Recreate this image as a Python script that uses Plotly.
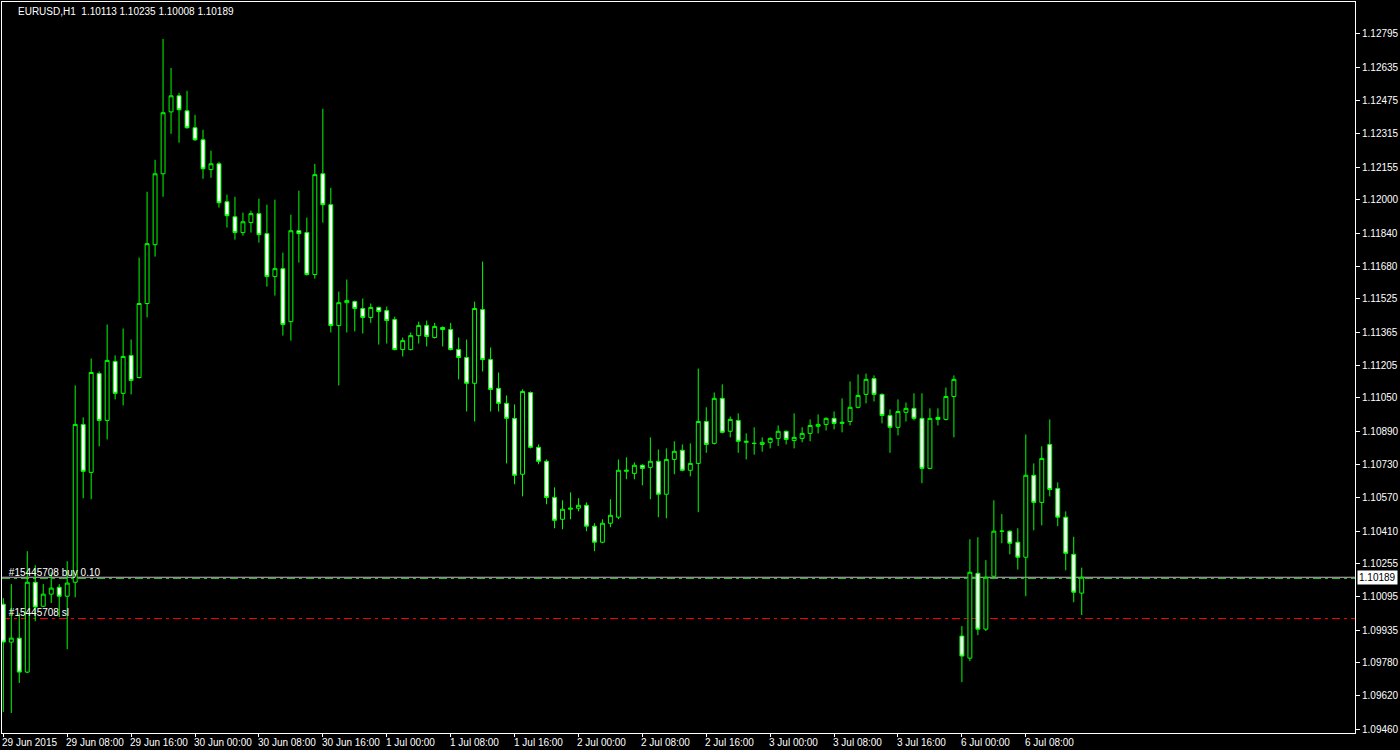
import plotly.graph_objects as go

# ---------------- data (EURUSD H1) ----------------
opens = [
    1.10060, 1.09878, 1.09897, 1.09734, 1.10165, 1.10050, 1.10108, 1.10141, 1.10098, 1.10165,
    1.10922, 1.10692, 1.11166, 1.10941, 1.11224, 1.11071, 1.11253, 1.11147, 1.11502, 1.11784,
    1.12124, 1.12421, 1.12498, 1.12426, 1.12345, 1.12287, 1.12144, 1.12172, 1.11990, 1.11918,
    1.11842, 1.11890, 1.11933, 1.11837, 1.11631, 1.11669, 1.11415, 1.11851, 1.11842, 1.11641,
    1.12124, 1.11976, 1.11396, 1.11506, 1.11511, 1.11478, 1.11435, 1.11483, 1.11468, 1.11425,
    1.11281, 1.11281, 1.11348, 1.11396, 1.11339, 1.11387, 1.11377, 1.11281, 1.11243, 1.11119,
    1.11473, 1.11233, 1.11095, 1.11023, 1.10951, 1.10683, 1.11075, 1.10812, 1.10745, 1.10572,
    1.10467, 1.10515, 1.10520, 1.10534, 1.10434, 1.10357, 1.10448, 1.10477, 1.10697, 1.10687,
    1.10726, 1.10716, 1.10745, 1.10587, 1.10754, 1.10798, 1.10702, 1.10735, 1.10936, 1.10831,
    1.11047, 1.10889, 1.10941, 1.10836, 1.10831, 1.10826, 1.10836, 1.10855, 1.10889, 1.10845,
    1.10855, 1.10879, 1.10913, 1.10922, 1.10951, 1.10927, 1.10936, 1.11004, 1.11066, 1.11142,
    1.11066, 1.10965, 1.10908, 1.10980, 1.10999, 1.10951, 1.10711, 1.10956, 1.10946, 1.11056,
    1.09907, 1.09801, 1.10208, 1.09940, 1.10194, 1.10410, 1.10410, 1.10357, 1.10285, 1.10678,
    1.10548, 1.10826, 1.10615, 1.10477, 1.10299, 1.10113,
]
highs = [
    1.10089, 1.10156, 1.10017, 1.10314, 1.10247, 1.10156, 1.10213, 1.10156, 1.10266, 1.11109,
    1.10956, 1.11238, 1.11176, 1.11401, 1.11253, 1.11382, 1.11329, 1.11722, 1.12038, 1.12191,
    1.12771, 1.12632, 1.12512, 1.12522, 1.12407, 1.12335, 1.12235, 1.12182, 1.12024, 1.12014,
    1.11938, 1.11947, 1.12005, 1.11976, 1.12000, 1.11746, 1.11928, 1.12043, 1.11914, 1.12172,
    1.12436, 1.12057, 1.11559, 1.11617, 1.11516, 1.11526, 1.11502, 1.11487, 1.11487, 1.11439,
    1.11339, 1.11363, 1.11415, 1.11420, 1.11409, 1.11392, 1.11409, 1.11339, 1.11329, 1.11511,
    1.11703, 1.11291, 1.11171, 1.11061, 1.11018, 1.11090, 1.11080, 1.10826, 1.10754, 1.10620,
    1.10558, 1.10596, 1.10568, 1.10548, 1.10448, 1.10467, 1.10563, 1.10754, 1.10764, 1.10740,
    1.10731, 1.10860, 1.10802, 1.10807, 1.10841, 1.10826, 1.10831, 1.11190, 1.11004, 1.11075,
    1.11114, 1.10960, 1.10975, 1.10879, 1.10908, 1.10860, 1.10860, 1.10917, 1.10893, 1.10975,
    1.10908, 1.10946, 1.10970, 1.10956, 1.10984, 1.11047, 1.11128, 1.11162, 1.11166, 1.11157,
    1.11071, 1.10994, 1.11042, 1.11027, 1.11071, 1.11071, 1.10999, 1.10999, 1.11099, 1.11157,
    1.09955, 1.10371, 1.10381, 1.10271, 1.10558, 1.10492, 1.10414, 1.10424, 1.10874, 1.10735,
    1.10817, 1.10946, 1.10644, 1.10505, 1.10383, 1.10235,
]
lows = [
    1.09543, 1.09538, 1.09682, 1.09729, 1.09978, 1.10046, 1.10065, 1.09998, 1.09844, 1.10093,
    1.10568, 1.10563, 1.10817, 1.10850, 1.11042, 1.11013, 1.11066, 1.11142, 1.11435, 1.11727,
    1.12014, 1.12316, 1.12273, 1.12340, 1.12282, 1.12100, 1.12105, 1.11962, 1.11866, 1.11808,
    1.11827, 1.11842, 1.11794, 1.11583, 1.11540, 1.11348, 1.11324, 1.11698, 1.11636, 1.11621,
    1.11890, 1.11363, 1.11109, 1.11363, 1.11368, 1.11358, 1.11409, 1.11305, 1.11310, 1.11277,
    1.11248, 1.11277, 1.11310, 1.11296, 1.11334, 1.11296, 1.11277, 1.11138, 1.10984, 1.10936,
    1.11176, 1.10984, 1.10984, 1.10735, 1.10635, 1.10577, 1.10807, 1.10731, 1.10539, 1.10424,
    1.10419, 1.10467, 1.10505, 1.10410, 1.10314, 1.10352, 1.10429, 1.10467, 1.10659, 1.10659,
    1.10630, 1.10563, 1.10477, 1.10472, 1.10683, 1.10697, 1.10673, 1.10501, 1.10786, 1.10826,
    1.10879, 1.10860, 1.10786, 1.10754, 1.10777, 1.10791, 1.10807, 1.10818, 1.10826, 1.10807,
    1.10836, 1.10841, 1.10879, 1.10893, 1.10898, 1.10884, 1.10917, 1.10999, 1.11023, 1.11032,
    1.10927, 1.10786, 1.10869, 1.10936, 1.10941, 1.10640, 1.10707, 1.10917, 1.10941, 1.10860,
    1.09686, 1.09787, 1.09911, 1.09931, 1.10189, 1.10352, 1.10299, 1.10226, 1.10098, 1.10414,
    1.10438, 1.10577, 1.10434, 1.10222, 1.10069, 1.10008,
]
closes = [
    1.09878, 1.09897, 1.09734, 1.10165, 1.10046, 1.10108, 1.10137, 1.10098, 1.10161, 1.10922,
    1.10697, 1.11171, 1.10941, 1.11229, 1.11071, 1.11248, 1.11133, 1.11502, 1.11789, 1.12124,
    1.12417, 1.12498, 1.12431, 1.12345, 1.12287, 1.12148, 1.12172, 1.11985, 1.11923, 1.11842,
    1.11894, 1.11933, 1.11832, 1.11631, 1.11669, 1.11401, 1.11851, 1.11837, 1.11641, 1.12120,
    1.11976, 1.11396, 1.11506, 1.11516, 1.11478, 1.11435, 1.11483, 1.11463, 1.11420, 1.11281,
    1.11324, 1.11348, 1.11396, 1.11344, 1.11392, 1.11377, 1.11281, 1.11243, 1.11119, 1.11478,
    1.11233, 1.11090, 1.11023, 1.10951, 1.10678, 1.11080, 1.10812, 1.10745, 1.10572, 1.10462,
    1.10515, 1.10520, 1.10534, 1.10434, 1.10357, 1.10448, 1.10486, 1.10702, 1.10702, 1.10726,
    1.10711, 1.10745, 1.10587, 1.10754, 1.10793, 1.10702, 1.10735, 1.10936, 1.10826, 1.11047,
    1.10884, 1.10946, 1.10841, 1.10841, 1.10831, 1.10836, 1.10855, 1.10889, 1.10850, 1.10860,
    1.10879, 1.10917, 1.10922, 1.10951, 1.10927, 1.10932, 1.11004, 1.11061, 1.11138, 1.11066,
    1.10965, 1.10908, 1.10984, 1.10999, 1.10951, 1.10711, 1.10951, 1.10946, 1.11056, 1.11138,
    1.09811, 1.10213, 1.09940, 1.10189, 1.10410, 1.10410, 1.10352, 1.10285, 1.10678, 1.10548,
    1.10759, 1.10610, 1.10477, 1.10304, 1.10117, 1.10189,
]

time_tick_bars = [0, 8, 16, 24, 32, 40, 48, 56, 64, 72, 80, 88, 96, 104, 112, 120, 128]
time_tick_labels = [
    "29 Jun 2015", "29 Jun 08:00", "29 Jun 16:00", "30 Jun 00:00", "30 Jun 08:00",
    "30 Jun 16:00", "1 Jul 00:00", "1 Jul 08:00", "1 Jul 16:00", "2 Jul 00:00",
    "2 Jul 08:00", "2 Jul 16:00", "3 Jul 00:00", "3 Jul 08:00", "3 Jul 16:00",
    "6 Jul 00:00", "6 Jul 08:00",
]
price_ticks = [
    "1.12795", "1.12635", "1.12475", "1.12315", "1.12155", "1.12000", "1.11840",
    "1.11680", "1.11525", "1.11365", "1.11205", "1.11050", "1.10890", "1.10730",
    "1.10570", "1.10410", "1.10255", "1.10095", "1.09935", "1.09780", "1.09620", "1.09460",
]

symbol_title = "EURUSD,H1"
bid_price = 1.10189
order_price = 1.10183
sl_price = 1.09991
order_label = "#15445708 buy 0.10"
sl_label = "#15445708 sl"

# ---------------- figure ----------------
bars = list(range(len(opens)))
FONT = "Liberation Sans, Arial, sans-serif"
GREEN = "#00FF00"
PAD = "\u00a0\u00a0"

fig = go.Figure()

# order labels first, so candles are drawn over them (chart in foreground)
fig.add_trace(go.Scatter(
    x=[bars[0], bars[0]], y=[order_price, sl_price],
    mode="text", text=[PAD + order_label, PAD + sl_label],
    textposition="top right",
    textfont=dict(family=FONT, size=10, color="#FFFFFF"),
    hoverinfo="skip", showlegend=False,
))

fig.add_trace(go.Candlestick(
    x=bars, open=opens, high=highs, low=lows, close=closes,
    increasing=dict(line=dict(color=GREEN, width=1), fillcolor="#000000"),
    decreasing=dict(line=dict(color=GREEN, width=1), fillcolor="#FFFFFF"),
    whiskerwidth=0, showlegend=False, hoverinfo="skip",
))

shapes = [
    dict(type="line", xref="paper", x0=0, x1=1, yref="y", y0=bid_price, y1=bid_price,
         line=dict(color="#C0C0C0", width=1), layer="below"),
    dict(type="line", xref="paper", x0=0, x1=1, yref="y", y0=order_price, y1=order_price,
         line=dict(color="#2DB52D", width=1, dash="8px,4px,3px,4px"), layer="below"),
    dict(type="line", xref="paper", x0=0, x1=1, yref="y", y0=sl_price, y1=sl_price,
         line=dict(color="#FF0000", width=1, dash="8px,4px,3px,4px"), layer="below"),
]

annotations = [
    dict(xref="paper", yref="paper", x=0, y=1, xanchor="left", yanchor="top",
         xshift=14, yshift=-2, showarrow=False,
         text=f"{symbol_title}\u00a0 {opens[-1]:.5f} {highs[-1]:.5f} {lows[-1]:.5f} {closes[-1]:.5f}",
         font=dict(family=FONT, size=10, color="#FFFFFF")),
    dict(xref="paper", yref="y", x=1, y=bid_price, xanchor="left", yanchor="middle",
         xshift=2, showarrow=False, text=f"{bid_price:.5f}", bgcolor="#FFFFFF",
         borderpad=1, font=dict(family=FONT, size=10, color="#000000")),
]
for b, lab in zip(time_tick_bars, time_tick_labels):
    annotations.append(dict(
        xref="x", yref="paper", x=b, y=0, xanchor="left", yanchor="top",
        xshift=-3, yshift=-2, showarrow=False, text=lab,
        font=dict(family=FONT, size=10, color="#FFFFFF")))

fig.update_layout(
    width=1400, height=750,
    margin=dict(l=2, r=43, t=1, b=17),
    paper_bgcolor="#000000", plot_bgcolor="#000000",
    showlegend=False, shapes=shapes, annotations=annotations,
    xaxis=dict(range=[-0.1625, 169.21], showgrid=False, zeroline=False,
               showline=True, mirror=True, linecolor="#FFFFFF", linewidth=1,
               ticks="outside", ticklen=3, tickcolor="#FFFFFF", tickwidth=1,
               tickvals=time_tick_bars, showticklabels=False,
               rangeslider=dict(visible=False), fixedrange=True),
    yaxis=dict(range=[1.09442, 1.12948], side="right", showgrid=False, zeroline=False,
               showline=True, mirror=True, linecolor="#FFFFFF", linewidth=1,
               ticks="outside", ticklen=4, tickcolor="#FFFFFF", tickwidth=1,
               tickvals=[float(t) for t in price_ticks], ticktext=price_ticks,
               tickfont=dict(family=FONT, size=10, color="#FFFFFF"), fixedrange=True),
)

fig.write_html(
    "out.html",
    config={"displayModeBar": False},
    post_script="document.body.style.margin='0';document.body.style.background='#000';",
)
